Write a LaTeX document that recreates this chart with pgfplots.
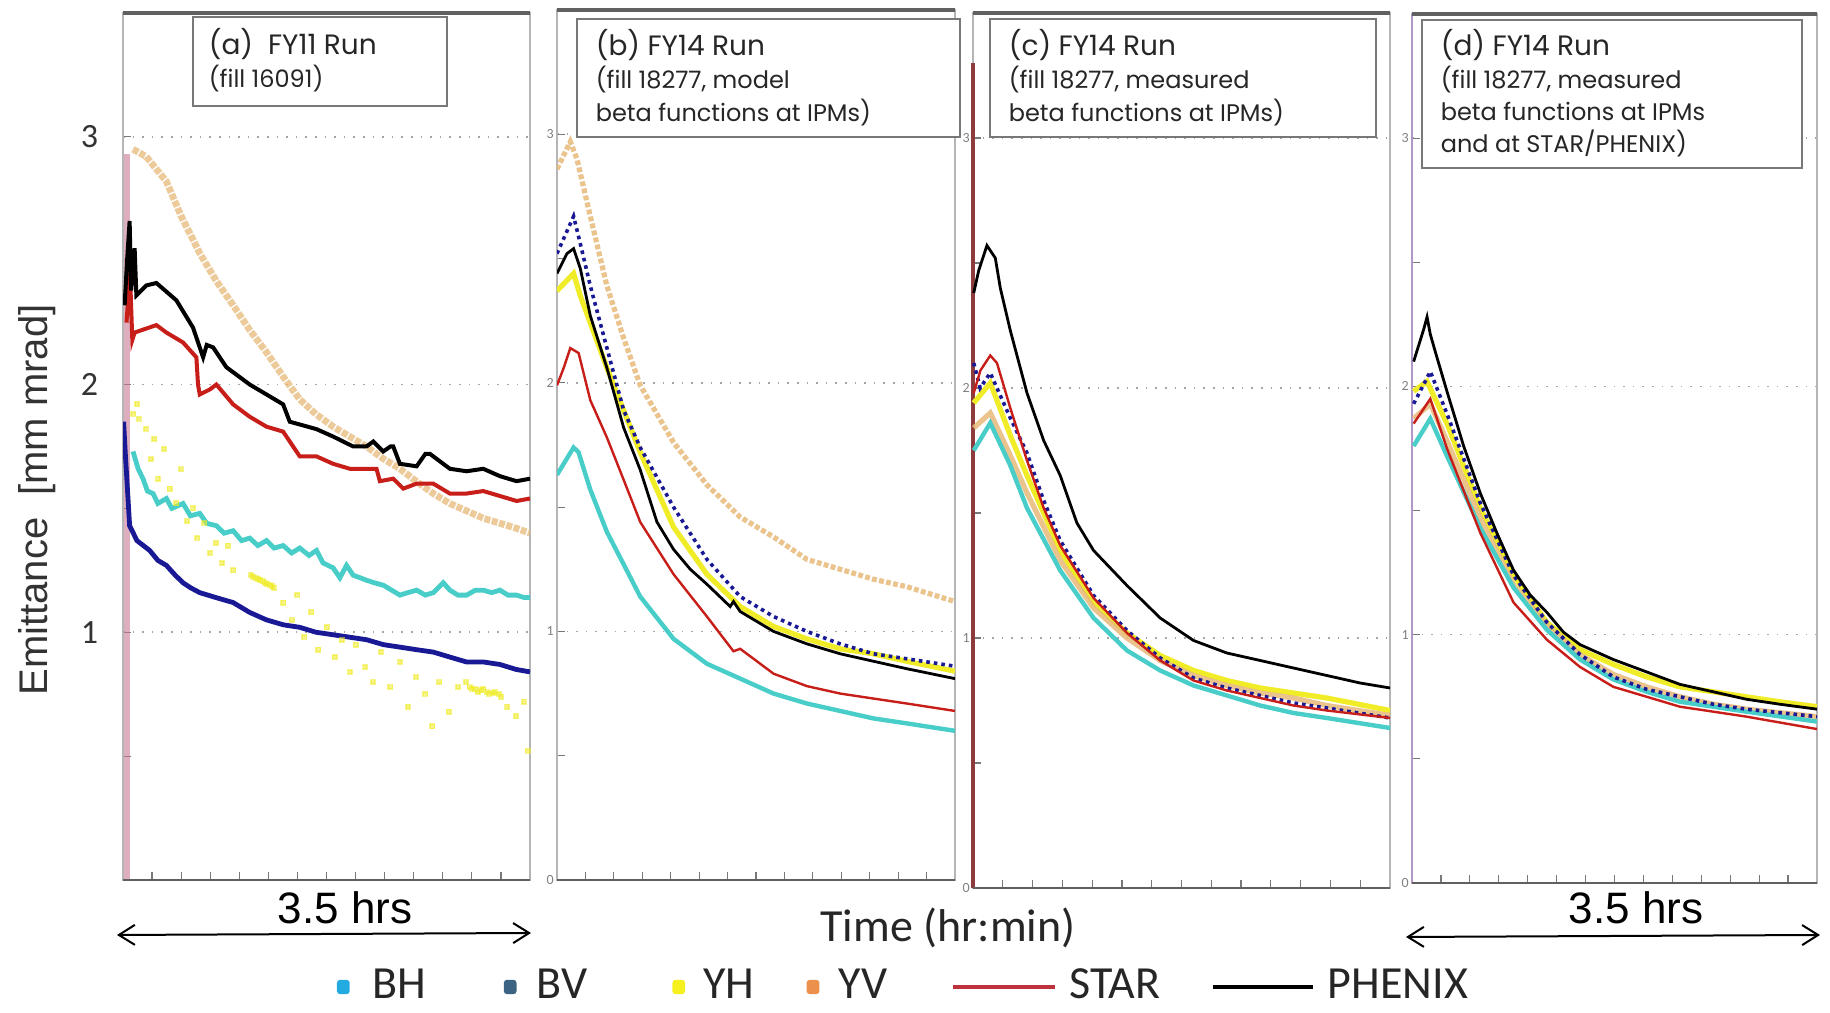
\documentclass[border=0pt]{standalone}
\usepackage{fontspec}
\setmainfont{Liberation Sans}
\newfontfamily\carlito{Carlito}
\newfontfamily\boxfont{Poppins}
\usepackage{pgfplots}
\pgfplotsset{compat=1.18}
\usetikzlibrary{arrows.meta}

\definecolor{cBH}{RGB}{72,205,200}
\definecolor{cBV}{RGB}{25,25,150}
\definecolor{cYH}{RGB}{240,236,40}
\definecolor{cYV}{RGB}{232,185,120}
\definecolor{cSTAR}{RGB}{200,30,25}
\definecolor{lBH}{RGB}{35,170,225}
\definecolor{lBV}{RGB}{60,100,130}
\definecolor{lYH}{RGB}{245,240,30}
\definecolor{lYV}{RGB}{235,145,75}
\definecolor{lSTAR}{RGB}{190,50,60}
\definecolor{frame}{RGB}{120,120,120}
\definecolor{pinkax}{RGB}{200,120,150}
\definecolor{maroonax}{RGB}{140,60,60}
\definecolor{lavax}{RGB}{180,150,200}

\pgfplotsset{
  panel/.style={scale only axis, anchor=south west,
    xmin=0, xmax=3.5, ymin=0, ymax=3.5,
    axis line style={draw=frame!55, line width=0.4pt},
    xtick={0.25,0.5,...,3.25}, xticklabels={},
    ytick={0,1,2,3}, minor ytick={0.5,1.5,2.5},
    xtick pos=bottom, ytick pos=left,
    major tick length=2pt, minor tick length=2pt,
    tick style={frame, line width=0.3pt},
    tick align=inside,
    ymajorgrids, grid style={dotted, gray!70, line width=0.4pt},
    yticklabel style={font=\carlito\fontsize{3.5}{4}\selectfont, text=gray, inner sep=0.6pt},
    /pgf/number format/assume math mode=true,
    after end axis/.code={
      \draw[frame!80!black, line width=0.8pt] (rel axis cs:0,1) -- (rel axis cs:1,1);
      \draw[frame!80!black, line width=0.6pt] (rel axis cs:0,0) -- (rel axis cs:1,0);
    },
  },
  yv/.style={cYV, line width=1.3pt, opacity=0.85, forget plot},
  yh/.style={cYH, line width=1.3pt, forget plot},
  bh/.style={cBH, line width=1.1pt, forget plot},
  bv/.style={cBV, line width=0.9pt, densely dotted, forget plot},
  star/.style={cSTAR, line width=0.6pt, forget plot},
  phenix/.style={black, line width=0.7pt, forget plot},
}

\begin{document}
\begin{tikzpicture}
\fill[white] (0,0) rectangle (457.5pt,253.25pt);

% ---------------- panel (a)
\begin{axis}[panel, at={(30.75pt,33.25pt)}, width=101.75pt, height=216.75pt,
  ytick={1,2,3},
  yticklabel style={font=\carlito\fontsize{8.5}{10}\selectfont, text=black!80, inner sep=0pt, xshift=-6pt}]
\addplot[pinkax, line width=1.5pt, opacity=0.6, forget plot] coordinates {(0.034,0) (0.034,2.93)};
\addplot[yv, line width=1.7pt, opacity=0.75, dash pattern=on 1.5pt off 0.4pt] coordinates {
(0.086,2.95) (0.2,2.92) (0.373,2.82) (0.5,2.68) (0.66,2.53) (0.8,2.42) (0.947,2.32) (1.09,2.22)
(1.234,2.13) (1.38,2.03) (1.52,1.94) (1.66,1.88) (1.807,1.83) (1.95,1.79) (2.094,1.75) (2.24,1.70)
(2.381,1.66) (2.52,1.61) (2.668,1.56) (2.81,1.52) (2.955,1.49) (3.1,1.46) (3.242,1.44) (3.38,1.42) (3.5,1.40)};
\addplot[cYH, only marks, mark=square*, mark size=0.55pt, opacity=0.55, forget plot] coordinates {
(0.09,1.88)(0.12,1.92)(0.14,1.86)(0.2,1.82)(0.24,1.70)(0.27,1.78)(0.3,1.62)(0.35,1.74)(0.4,1.58)
(0.46,1.52)(0.5,1.66)(0.55,1.45)(0.6,1.50)(0.64,1.38)(0.7,1.44)(0.75,1.32)(0.8,1.36)(0.85,1.28)
(0.9,1.35)(0.95,1.25)(1.1,1.23)(1.12,1.225)(1.14,1.22)(1.16,1.215)(1.18,1.21)(1.2,1.205)(1.22,1.20)
(1.24,1.195)(1.26,1.19)(1.28,1.185)(1.3,1.18)(1.38,1.12)(1.45,1.05)(1.5,1.15)(1.56,0.98)(1.62,1.08)
(1.68,0.93)(1.75,1.02)(1.82,0.90)(1.88,0.97)(1.95,0.84)(2.0,0.95)(2.08,0.86)(2.15,0.80)(2.22,0.92)
(2.3,0.78)(2.38,0.88)(2.45,0.70)(2.52,0.82)(2.6,0.75)(2.66,0.62)(2.72,0.80)(2.8,0.68)(2.88,0.78)
(2.95,0.80)(2.98,0.78)(3.0,0.77)(3.03,0.77)(3.05,0.76)(3.08,0.765)(3.1,0.77)(3.13,0.76)(3.15,0.75)
(3.18,0.755)(3.2,0.76)(3.23,0.75)(3.25,0.74)(3.3,0.70)(3.38,0.66)(3.45,0.72)(3.48,0.52)};
\addplot[bh, line width=1.2pt] coordinates {
(0.086,1.73)(0.13,1.66)(0.172,1.62)(0.21,1.57)(0.258,1.56)(0.3,1.52)(0.373,1.54)(0.42,1.50)(0.516,1.52)
(0.58,1.47)(0.66,1.48)(0.72,1.44)(0.803,1.43)(0.87,1.40)(0.947,1.41)(1.02,1.37)(1.09,1.38)(1.16,1.35)
(1.234,1.37)(1.3,1.34)(1.377,1.35)(1.45,1.32)(1.52,1.34)(1.6,1.31)(1.664,1.33)(1.72,1.28)(1.807,1.26)
(1.865,1.22)(1.922,1.27)(1.98,1.23)(2.04,1.22)(2.094,1.21)(2.16,1.20)(2.238,1.19)(2.31,1.17)(2.381,1.15)
(2.45,1.16)(2.525,1.17)(2.6,1.15)(2.668,1.16)(2.754,1.20)(2.811,1.17)(2.88,1.15)(2.955,1.15)(3.03,1.17)
(3.098,1.17)(3.17,1.16)(3.242,1.17)(3.31,1.15)(3.385,1.15)(3.45,1.14)(3.5,1.14)};
\addplot[bv, solid, line width=1.2pt] coordinates {
(0.005,1.85)(0.02,1.72)(0.057,1.43)(0.12,1.37)(0.23,1.33)(0.3,1.29)(0.373,1.27)(0.45,1.23)(0.516,1.20)
(0.58,1.18)(0.66,1.16)(0.8,1.14)(0.947,1.12)(1.09,1.08)(1.234,1.05)(1.38,1.03)(1.52,1.02)(1.66,1.00)
(1.807,0.99)(1.95,0.98)(2.094,0.97)(2.24,0.95)(2.381,0.94)(2.52,0.93)(2.668,0.92)(2.81,0.90)(2.955,0.88)
(3.1,0.88)(3.242,0.87)(3.38,0.85)(3.5,0.84)};
\addplot[star, line width=1pt] coordinates {
(0.03,2.25)(0.06,2.45)(0.08,2.18)(0.1,2.21)(0.287,2.24)(0.373,2.21)(0.516,2.17)(0.631,2.11)(0.645,2.0)
(0.66,1.96)(0.746,1.98)(0.803,2.00)(0.947,1.92)(1.09,1.87)(1.234,1.83)(1.377,1.81)(1.463,1.75)(1.52,1.71)
(1.664,1.71)(1.807,1.68)(1.951,1.66)(2.094,1.66)(2.18,1.66)(2.209,1.61)(2.324,1.62)(2.41,1.58)(2.525,1.60)
(2.668,1.60)(2.811,1.56)(2.955,1.56)(3.098,1.57)(3.242,1.55)(3.385,1.53)(3.5,1.54)};
\addplot[phenix, line width=1pt] coordinates {
(0.014,2.32)(0.035,2.50)(0.057,2.66)(0.07,2.38)(0.1,2.55)(0.115,2.36)(0.2,2.40)(0.287,2.41)(0.459,2.34)
(0.602,2.23)(0.689,2.11)(0.72,2.16)(0.775,2.15)(0.889,2.07)(1.09,2.00)(1.234,1.96)(1.377,1.92)(1.434,1.85)
(1.664,1.82)(1.807,1.79)(1.98,1.75)(2.094,1.75)(2.152,1.77)(2.238,1.73)(2.30,1.75)(2.324,1.75)(2.381,1.68)
(2.525,1.67)(2.60,1.72)(2.64,1.72)(2.811,1.66)(2.955,1.65)(3.098,1.66)(3.242,1.63)(3.385,1.61)(3.5,1.62)};
\end{axis}

% ---------------- panel (b)
\begin{axis}[panel, at={(139.25pt,33.25pt)}, width=99.5pt, height=217.5pt,
  legend columns=6,
  legend style={draw=none, fill=none, at={(-0.555,-0.123)}, anchor=west,
    font=\carlito\fontsize{11.5}{13}\selectfont, text=black!85,
    column sep=0pt, inner sep=0pt,
    nodes={inner sep=0pt}}]
\addplot[yv, dash pattern=on 1.2pt off 0.6pt] coordinates {
(0,2.86) (0.117,2.97) (0.176,2.90) (0.293,2.67) (0.439,2.39) (0.586,2.18) (0.732,1.99) (1.025,1.76)
(1.318,1.59) (1.611,1.46) (1.904,1.38) (2.197,1.29) (2.49,1.25) (2.782,1.21) (3.075,1.18) (3.5,1.12)};
\addplot[yh] coordinates {
(0,2.37) (0.146,2.44) (0.205,2.35) (0.439,2.06) (0.732,1.72) (1.025,1.42) (1.318,1.23) (1.611,1.10)
(1.904,1.02) (2.197,0.97) (2.49,0.93) (2.782,0.91) (3.075,0.88) (3.5,0.84)};
\addplot[bh] coordinates {
(0,1.63) (0.146,1.74) (0.19,1.72) (0.293,1.57) (0.439,1.40) (0.586,1.27) (0.732,1.14) (1.025,0.97)
(1.318,0.87) (1.611,0.81) (1.904,0.75) (2.197,0.71) (2.49,0.68) (2.782,0.65) (3.075,0.63) (3.5,0.60)};
\addplot[bv] coordinates {
(0,2.52) (0.146,2.67) (0.205,2.56) (0.293,2.39) (0.439,2.14) (0.586,1.89) (0.732,1.74) (1.025,1.50)
(1.318,1.29) (1.611,1.14) (1.904,1.06) (2.197,1.00) (2.49,0.95) (2.782,0.91) (3.075,0.89) (3.5,0.86)};
\addplot[star] coordinates {
(0,1.99) (0.059,2.06) (0.117,2.14) (0.19,2.12) (0.293,1.93) (0.439,1.78) (0.586,1.61) (0.732,1.44)
(1.025,1.23) (1.318,1.06) (1.552,0.92) (1.611,0.93) (1.904,0.83) (2.197,0.78) (2.49,0.75) (2.782,0.73)
(3.075,0.71) (3.5,0.68)};
\addplot[phenix] coordinates {
(0,2.44) (0.088,2.52) (0.146,2.54) (0.205,2.46) (0.293,2.27) (0.439,2.06) (0.586,1.82) (0.732,1.65)
(0.879,1.44) (1.025,1.33) (1.172,1.25) (1.318,1.19) (1.523,1.10) (1.552,1.12) (1.611,1.08) (1.904,1.00)
(2.197,0.95) (2.49,0.91) (2.782,0.88) (3.075,0.85) (3.5,0.81)};
\addlegendimage{legend image code/.code={\fill[lBH, draw=none, rounded corners=0.8pt] (0pt,-1.8pt) rectangle (3.2pt,1.8pt); \path[draw=none, fill=none] (0pt,0pt) rectangle (8.8pt,0.1pt);}}
\addlegendentry{BH\hspace*{19.5pt}}
\addlegendimage{legend image code/.code={\fill[lBV, draw=none, rounded corners=0.8pt] (0pt,-1.8pt) rectangle (3.2pt,1.8pt); \path[draw=none, fill=none] (0pt,0pt) rectangle (8.2pt,0.1pt);}}
\addlegendentry{BV\hspace*{21.3pt}}
\addlegendimage{legend image code/.code={\fill[lYH, draw=none, rounded corners=0.8pt] (0pt,-1.8pt) rectangle (3.2pt,1.8pt); \path[draw=none, fill=none] (0pt,0pt) rectangle (7.8pt,0.1pt);}}
\addlegendentry{YH\hspace*{13pt}}
\addlegendimage{legend image code/.code={\fill[lYV, draw=none, rounded corners=0.8pt] (0pt,-1.8pt) rectangle (3.2pt,1.8pt); \path[draw=none, fill=none] (0pt,0pt) rectangle (8pt,0.1pt);}}
\addlegendentry{YV\hspace*{16pt}}
\addlegendimage{legend image code/.code={\draw[lSTAR, line width=1.1pt] (0pt,0pt) -- (25.5pt,0pt); \path[draw=none, fill=none] (0pt,0pt) rectangle (29pt,0.1pt);}}
\addlegendentry{STAR\hspace*{12.5pt}}
\addlegendimage{legend image code/.code={\draw[black, line width=1.1pt] (0pt,0pt) -- (25pt,0pt); \path[draw=none, fill=none] (0pt,0pt) rectangle (28.8pt,0.1pt);}}
\addlegendentry{PHENIX}
\end{axis}

% ---------------- panel (c)
\begin{axis}[panel, at={(243.25pt,31.25pt)}, width=104.25pt, height=218.75pt, clip=false]
\addplot[maroonax, line width=0.8pt, forget plot] coordinates {(0,0) (0,3.3)};
\addplot[yh] coordinates {
(0.006,1.94) (0.145,2.02) (0.313,1.81) (0.453,1.65) (0.732,1.35) (1.012,1.14) (1.292,1.02) (1.571,0.93)
(1.851,0.87) (2.13,0.83) (2.41,0.80) (2.689,0.78) (2.969,0.76) (3.5,0.71)};
\addplot[yv] coordinates {
(0.006,1.84) (0.145,1.90) (0.313,1.73) (0.453,1.58) (0.732,1.31) (1.012,1.12) (1.292,1.00) (1.571,0.91)
(1.851,0.85) (2.13,0.81) (2.41,0.78) (2.689,0.76) (2.969,0.73) (3.5,0.69)};
\addplot[bh] coordinates {
(0.006,1.75) (0.145,1.86) (0.313,1.69) (0.453,1.52) (0.732,1.27) (1.012,1.08) (1.292,0.95) (1.571,0.87)
(1.851,0.81) (2.13,0.77) (2.41,0.73) (2.689,0.70) (2.969,0.68) (3.5,0.64)};
\addplot[bv] coordinates {
(0.006,2.10) (0.06,2.0) (0.145,2.06) (0.313,1.88) (0.453,1.74) (0.593,1.55) (0.732,1.39) (1.012,1.17)
(1.292,1.03) (1.571,0.92) (1.851,0.84) (2.13,0.80) (2.41,0.77) (2.689,0.74) (2.969,0.72) (3.5,0.68)};
\addplot[star] coordinates {
(0.006,1.98) (0.062,2.07) (0.145,2.13) (0.201,2.10) (0.313,1.92) (0.453,1.71) (0.593,1.52) (0.732,1.37)
(1.012,1.16) (1.292,1.02) (1.571,0.91) (1.851,0.83) (2.13,0.79) (2.41,0.76) (2.689,0.73) (2.969,0.71) (3.5,0.68)};
\addplot[phenix] coordinates {
(0.006,2.38) (0.048,2.47) (0.117,2.57) (0.187,2.52) (0.229,2.40) (0.313,2.23) (0.453,1.98) (0.593,1.79)
(0.732,1.65) (0.872,1.46) (1.012,1.35) (1.152,1.28) (1.292,1.21) (1.571,1.08) (1.851,0.99) (2.13,0.94)
(2.41,0.91) (2.689,0.88) (2.969,0.85) (3.248,0.82) (3.5,0.80)};
\end{axis}

% ---------------- panel (d)
\begin{axis}[panel, at={(353pt,32.5pt)}, width=101.25pt, height=217.25pt, clip=false]
\addplot[lavax, line width=0.6pt, forget plot] coordinates {(0,0) (0,3.5)};
\addplot[yh] coordinates {
(0.014,1.98) (0.129,2.02) (0.302,1.85) (0.59,1.51) (0.877,1.24) (1.165,1.05) (1.452,0.94) (1.74,0.88)
(2.028,0.83) (2.315,0.79) (2.603,0.77) (2.89,0.75) (3.178,0.73) (3.5,0.71)};
\addplot[yv] coordinates {
(0.014,1.87) (0.158,1.93) (0.302,1.78) (0.59,1.47) (0.877,1.20) (1.165,1.04) (1.452,0.92) (1.74,0.84)
(2.028,0.79) (2.315,0.75) (2.603,0.72) (2.89,0.70) (3.5,0.67)};
\addplot[bh] coordinates {
(0.014,1.76) (0.158,1.87) (0.302,1.72) (0.59,1.43) (0.877,1.19) (1.165,1.02) (1.452,0.90) (1.74,0.82)
(2.028,0.77) (2.315,0.73) (2.603,0.71) (2.89,0.69) (3.5,0.65)};
\addplot[bv] coordinates {
(0.014,1.93) (0.158,2.06) (0.302,1.89) (0.59,1.53) (0.877,1.24) (1.165,1.05) (1.452,0.92) (1.74,0.83)
(2.028,0.78) (2.315,0.75) (2.603,0.72) (2.89,0.70) (3.5,0.67)};
\addplot[star] coordinates {
(0.014,1.85) (0.158,1.95) (0.302,1.75) (0.59,1.41) (0.877,1.13) (1.165,0.98) (1.452,0.87) (1.74,0.79)
(2.028,0.75) (2.315,0.71) (2.603,0.69) (2.89,0.67) (3.5,0.62)};
\addplot[phenix] coordinates {
(0.014,2.10) (0.101,2.23) (0.13,2.28) (0.158,2.21) (0.201,2.14) (0.302,1.98) (0.446,1.76) (0.59,1.57)
(0.733,1.41) (0.877,1.26) (1.021,1.16) (1.165,1.09) (1.309,1.01) (1.452,0.96) (1.74,0.90) (2.028,0.85)
(2.315,0.80) (2.603,0.77) (2.89,0.74) (3.178,0.72) (3.5,0.70)};
\end{axis}

% ---------------- annotation boxes
\begin{scope}[every node/.style={anchor=west, inner sep=0pt, text=black!85}]
\draw[frame, line width=0.6pt, fill=white] (48.25pt,226.75pt) rectangle (111.75pt,249pt);
\node[font=\boxfont\fontsize{7}{8}\selectfont] at (52pt,242.3pt) {(a)\ \ FY11 Run};
\node[font=\boxfont\fontsize{6}{7}\selectfont] at (52pt,233.6pt) {(fill 16091)};

\draw[frame, line width=0.6pt, fill=white] (144.25pt,219pt) rectangle (240pt,248.5pt);
\node[font=\boxfont\fontsize{7}{8}\selectfont] at (148.75pt,242pt) {(b) FY14 Run};
\node[font=\boxfont\fontsize{6}{7}\selectfont] at (148.75pt,233.25pt) {(fill 18277, model};
\node[font=\boxfont\fontsize{6}{7}\selectfont] at (148.75pt,225pt) {beta functions at IPMs)};

\draw[frame, line width=0.6pt, fill=white] (247.5pt,219pt) rectangle (344pt,248.5pt);
\node[font=\boxfont\fontsize{7}{8}\selectfont] at (252pt,242pt) {(c) FY14 Run};
\node[font=\boxfont\fontsize{6}{7}\selectfont] at (252pt,233.25pt) {(fill 18277, measured};
\node[font=\boxfont\fontsize{6}{7}\selectfont] at (252pt,225pt) {beta functions at IPMs)};

\draw[frame, line width=0.6pt, fill=white] (355.5pt,211.25pt) rectangle (450.5pt,248.25pt);
\node[font=\boxfont\fontsize{7}{8}\selectfont] at (360pt,242pt) {(d) FY14 Run};
\node[font=\boxfont\fontsize{6}{7}\selectfont] at (360pt,233.25pt) {(fill 18277, measured};
\node[font=\boxfont\fontsize{6}{7}\selectfont] at (360pt,225.5pt) {beta functions at IPMs};
\node[font=\boxfont\fontsize{6}{7}\selectfont] at (360pt,217.5pt) {and at STAR/PHENIX)};
\end{scope}

% ---------------- outer labels
\node[rotate=90, font=\fontsize{10}{12}\selectfont, text=black!80, inner sep=0pt] at (9.3pt,128.25pt) {Emittance\ \ [mm mrad]};
\node[font=\fontsize{11}{13}\selectfont, inner sep=0pt] at (86.3pt,26.25pt) {3.5 hrs};
\node[font=\fontsize{11}{13}\selectfont, inner sep=0pt] at (409pt,26.25pt) {3.5 hrs};
\node[font=\carlito\fontsize{11.5}{13}\selectfont, text=black!85, inner sep=0pt] at (237pt,21.25pt) {Time (hr:min)};
\draw[line width=0.5pt, {Straight Barb[length=4pt,width=5pt]}-{Straight Barb[length=4pt,width=5pt]}] (29.25pt,19.5pt) -- (132.75pt,20pt);
\draw[line width=0.5pt, {Straight Barb[length=4pt,width=5pt]}-{Straight Barb[length=4pt,width=5pt]}] (351.5pt,19pt) -- (455pt,19.5pt);
\end{tikzpicture}
\end{document}
